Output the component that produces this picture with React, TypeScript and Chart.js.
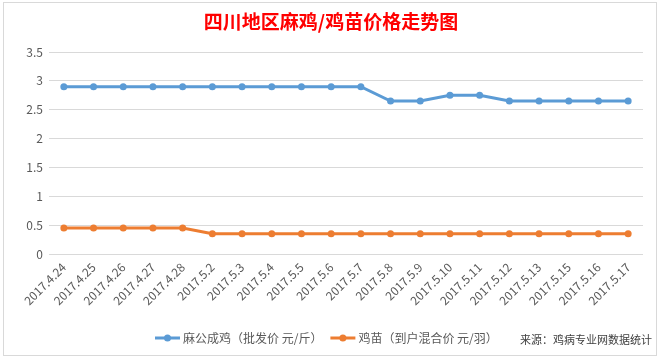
import React, { useEffect, useRef } from "react";
import { Chart, registerables } from "chart.js";

Chart.register(...registerables);

const categories = [
  "2017.4.24", "2017.4.25", "2017.4.26", "2017.4.27", "2017.4.28",
  "2017.5.2", "2017.5.3", "2017.5.4", "2017.5.5", "2017.5.6", "2017.5.7",
  "2017.5.8", "2017.5.9", "2017.5.10", "2017.5.11", "2017.5.12",
  "2017.5.13", "2017.5.15", "2017.5.16", "2017.5.17",
];
const adultPrice = [2.9, 2.9, 2.9, 2.9, 2.9, 2.9, 2.9, 2.9, 2.9, 2.9, 2.9, 2.65, 2.65, 2.75, 2.75, 2.65, 2.65, 2.65, 2.65, 2.65];
const chickPrice = [0.45, 0.45, 0.45, 0.45, 0.45, 0.35, 0.35, 0.35, 0.35, 0.35, 0.35, 0.35, 0.35, 0.35, 0.35, 0.35, 0.35, 0.35, 0.35, 0.35];
const seriesNames = ["麻公成鸡（批发价 元/斤）", "鸡苗（到户混合价 元/羽）"];
const titleText = "四川地区麻鸡/鸡苗价格走势图";
const sourceText = "来源：鸡病专业网数据统计";

const FONT = "'Noto Sans CJK SC', 'Noto Sans', sans-serif";

const decorPlugin = {
  id: "decor",
  afterDraw(chart: any) {
    const ctx = chart.ctx;
    ctx.save();
    // outer border
    ctx.strokeStyle = "#d9d9d9";
    ctx.lineWidth = 1;
    ctx.strokeRect(3.5, 2.5, 653, 353);
    // title
    ctx.fillStyle = "#ff0000";
    ctx.font = `bold 19px ${FONT}`;
    ctx.textAlign = "center";
    ctx.textBaseline = "middle";
    ctx.fillText(titleText, 331, 22);
    // legend
    ctx.font = `12px ${FONT}`;
    ctx.textAlign = "left";
    let x = 155;
    const y = 338;
    chart.data.datasets.forEach((ds: any) => {
      ctx.strokeStyle = ds.borderColor;
      ctx.lineWidth = 3;
      ctx.beginPath();
      ctx.moveTo(x, y);
      ctx.lineTo(x + 25, y);
      ctx.stroke();
      ctx.fillStyle = ds.borderColor;
      ctx.beginPath();
      ctx.arc(x + 12.5, y, 3.5, 0, Math.PI * 2);
      ctx.fill();
      ctx.fillStyle = "#595959";
      ctx.fillText(ds.label, x + 28, y);
      x += 28 + ctx.measureText(ds.label).width + 8;
    });
    // source
    ctx.font = `11px ${FONT}`;
    ctx.fillStyle = "#404040";
    ctx.textAlign = "right";
    ctx.fillText(sourceText, 652, 340);
    ctx.restore();
  },
};

export default function App() {
  const ref = useRef<HTMLCanvasElement>(null);
  useEffect(() => {
    document.body.style.margin = "0";
    const chart = new Chart(ref.current!, {
      type: "line",
      data: {
        labels: categories,
        datasets: [
          {
            label: seriesNames[0],
            data: adultPrice,
            borderColor: "#5B9BD5",
            backgroundColor: "#5B9BD5",
            borderWidth: 3,
            pointRadius: 3.5,
            pointBorderWidth: 0,
            tension: 0,
          },
          {
            label: seriesNames[1],
            data: chickPrice,
            borderColor: "#ED7D31",
            backgroundColor: "#ED7D31",
            borderWidth: 3,
            pointRadius: 3.5,
            pointBorderWidth: 0,
            tension: 0,
          },
        ],
      },
      options: {
        animation: false,
        responsive: false,
        layout: { padding: { top: 52, right: 18, left: 0, bottom: 0 } },
        plugins: {
          legend: { display: false },
          title: { display: false },
          tooltip: { enabled: false },
        },
        scales: {
          x: {
            offset: true,
            grid: { display: false, drawTicks: false },
            border: { display: false },
            ticks: {
              color: "#595959",
              font: { family: FONT, size: 12 },
              maxRotation: 45,
              minRotation: 45,
              autoSkip: false,
              padding: 6,
            },
            afterFit: (s: any) => { s.height = 108; },
          },
          y: {
            min: 0,
            max: 3.5,
            ticks: {
              stepSize: 0.5,
              color: "#595959",
              font: { family: FONT, size: 12 },
              padding: 6,
              callback: (v: any) => String(Number(v)),
            },
            grid: { color: "#d9d9d9", drawTicks: false },
            border: { display: false },
            afterFit: (s: any) => { s.width = 49; },
          },
        },
      },
      plugins: [decorPlugin],
    });
    return () => chart.destroy();
  }, []);
  return <canvas ref={ref} width={661} height={362} style={{ display: "block" }} />;
}
